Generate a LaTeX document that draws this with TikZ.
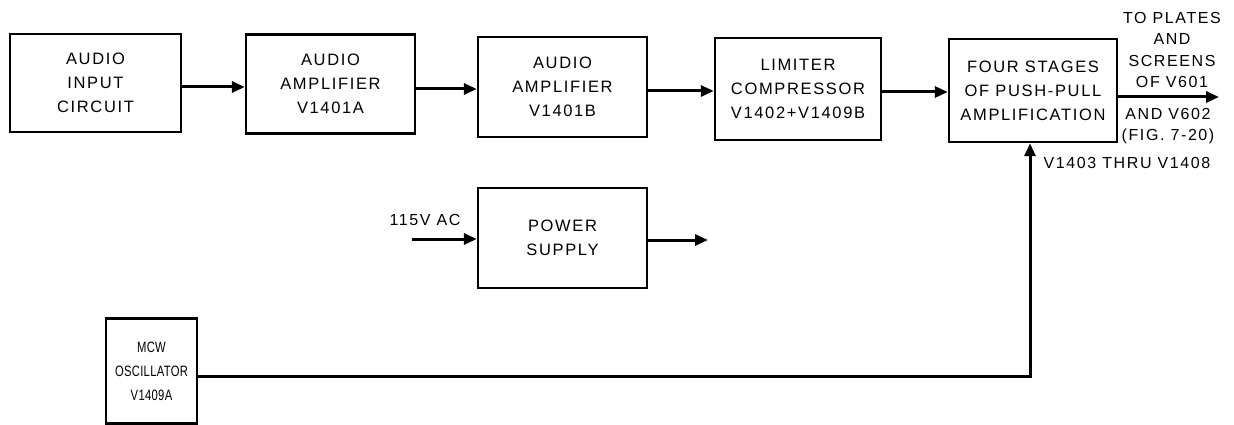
\documentclass[tikz,border=0pt]{standalone}
\usepackage{fontspec}
\setmainfont{Liberation Sans}[LetterSpace=10]
\usetikzlibrary{arrows.meta}
\begin{document}
\begin{tikzpicture}[x=1pt,y=-1pt,
  blk/.style={draw,line width=2.4pt,inner sep=0pt,align=center,
    font=\fontsize{16.5}{24}\selectfont},
  arr/.style={line width=3pt,-{Triangle[length=13pt,width=11pt]}},
  lbl/.style={font=\fontsize{16}{21.3}\selectfont,inner sep=0pt,align=center}]
\useasboundingbox (0,0) rectangle (1234,425);
\node[blk,minimum width=171pt,minimum height=98pt] (in) at (95.5,83) {AUDIO\\INPUT\\CIRCUIT};
\node[blk,minimum width=169pt,minimum height=99pt] (a1) at (330.5,84) {AUDIO\\AMPLIFIER\\V1401A};
\node[blk,minimum width=169pt,minimum height=100pt] (a2) at (562.5,87) {AUDIO\\AMPLIFIER\\V1401B};
\node[blk,minimum width=166pt,minimum height=102pt] (lim) at (798,89) {LIMITER\\COMPRESSOR\\V1402+V1409B};
\node[blk,minimum width=168pt,minimum height=103pt] (four) at (1033,90.5) {FOUR STAGES\\OF PUSH-PULL\\AMPLIFICATION};
\node[blk,minimum width=169pt,minimum height=100pt] (ps) at (562.5,238) {POWER\\SUPPLY};
\node[blk,minimum width=91pt,minimum height=105pt,
  font=\fontsize{15}{24}\selectfont\addfontfeatures{LetterSpace=2,FakeStretch=0.75}] (mcw) at (151.5,371) {MCW\\OSCILLATOR\\V1409A};

\coordinate (acin) at (412,239);
\coordinate (psout) at (708,240);
\coordinate (out) at (1219,97);
\coordinate (bend) at (1030,376);

\draw[arr] (in.east |- {(0,87)}) -- (a1.west |- {(0,87)});
\draw[arr] (a1.east |- {(0,89)}) -- (a2.west |- {(0,89)});
\draw[arr] (a2.east |- {(0,91)}) -- (lim.west |- {(0,91)});
\draw[arr] (lim.east |- {(0,92)}) -- (four.west |- {(0,92)});
\draw[arr] (four.east |- out) -- (out);
\draw[arr] (acin) -- (ps.west |- acin);
\draw[arr] (ps.east |- psout) -- (psout);
\draw[arr] (mcw.east |- bend) -- (bend) -- (bend |- four.south);

\node[lbl] (l115) at (425,220) {115V AC};
\node[lbl] (lto) at (1172,50) {TO PLATES\\AND\\SCREENS\\OF V601};
\node[lbl] (land) at (1168,126) {AND V602\\(FIG. 7-20)};
\node[lbl] (lthru) at (1127,163) {V1403 THRU V1408};
\end{tikzpicture}
\end{document}
